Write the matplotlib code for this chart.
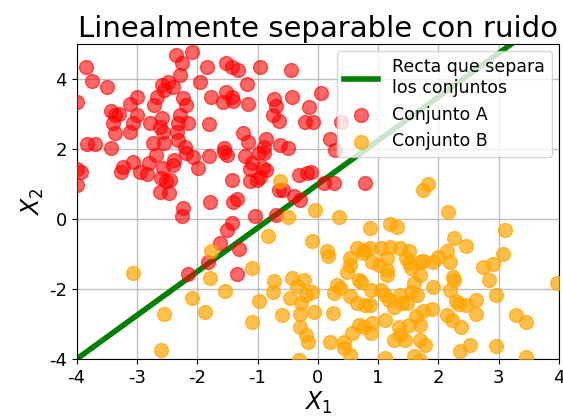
import matplotlib
matplotlib.use("Agg")
import matplotlib.pyplot as plt
import numpy as np

plt.rcParams["axes.unicode_minus"] = False

# Conjunto A (above the separating line)
a_x = [-3.85, -3.75, -3.50, -4.00, -2.35, -2.26, -2.29, -2.08, -2.59, -2.49,
       -2.40, -2.55, -2.67, -3.00, -3.12, -2.71, -2.23, -2.18, -3.43, -3.36,
       -3.30, -3.39, -3.36, -3.00, -3.06, -3.12, -2.78, -2.59, -2.62, -2.56,
       -2.31, -2.29, -2.34, -2.31, -3.83, -3.70, -3.43, -2.73, -2.55, -2.15,
       -1.84, -1.52, -1.43, -1.33, -0.96, -0.44, -1.96, -1.18, -1.77, -1.52,
       -1.57, -1.43, -1.40, -1.15, -0.72, -0.69, -0.43, -0.75, -0.64, -0.15,
       -0.21, -1.81, -1.24, -1.15, -0.86, -0.90, -0.62, -0.49, -2.20, -1.56,
       0.06, -0.08, 0.39, 0.21, 0.28,
       -4.00, -3.92, -4.00, -3.26, -3.23, -3.07, -2.94, -2.83, -2.80, -2.68,
       -2.57, -2.60, -2.52, -2.45, -2.62, -2.47, -2.40, -2.38, -2.18, -2.24,
       -2.25,
       -2.07, -1.98, -1.81, -1.56, -1.51, -1.20, -1.09, -1.12, -0.98, -0.90,
       -0.91, -0.86, -0.96, -1.12, -1.01, -1.43, -0.32, -0.18, -0.65, -0.57,
       -0.40, -0.30, -1.78, -1.40, -1.34, -1.04, -0.69, -1.43, -1.51, -1.62,
       -1.31,
       -0.12, 0.10, 0.27, 0.79, -2.16, -1.82, -1.34]
a_y = [4.34, 3.95, 3.79, 3.36, 4.70, 4.46, 4.12, 4.78, 3.84, 3.93,
       3.79, 3.70, 3.50, 3.50, 3.31, 3.27, 3.46, 3.27, 3.10, 2.98,
       3.02, 2.74, 2.46, 2.98, 2.74, 2.50, 2.74, 2.89, 2.65, 2.50,
       2.74, 2.98, 2.50, 2.27, 2.14, 2.14, 2.05, 2.17, 2.17, 2.74,
       4.34, 4.46, 4.34, 4.27, 4.36, 4.27, 3.93, 3.86, 3.49, 3.65,
       3.34, 3.50, 3.39, 3.31, 3.44, 3.25, 3.50, 2.98, 2.82, 3.22,
       2.77, 2.71, 2.46, 2.20, 2.30, 2.08, 2.12, 2.03, 2.08, 2.03,
       3.60, 2.77, 2.77, 2.30, 1.97,
       1.43, 1.36, 0.98, 1.36, 1.50, 1.65, 1.36, 1.30, 1.62, 1.84,
       1.46, 1.17, 1.10, 1.12, 0.79, 0.76, 1.55, 1.70, 1.89, 0.31,
       0.10,
       1.79, 1.46, 1.81, 1.93, 1.84, 1.81, 1.60, 1.43, 1.89, 1.89,
       1.46, 1.40, 1.22, 1.08, 1.12, 1.12, 1.27, 1.31, 0.84, 0.84,
       0.67, 0.55, 0.50, 0.50, 0.57, 0.08, 0.12, -0.11, -0.30, -0.69,
       -0.86,
       1.36, 1.03, 1.03, 1.05, -1.58, -1.23, -1.57]

# Conjunto B (below the separating line)
b_x = [-0.62, -0.49, -0.82, -1.77,
       -0.05, 0.35, 1.75, 1.82, 0.86, 1.20, 1.31, -0.09, 0.15,
       2.16, 3.10, 2.26, 2.45, 2.15, 3.07, 2.00,
       -3.07, -2.55, -2.60, -2.08,
       -1.78, -1.09, -1.54, -1.87, -0.97, -1.09, -0.72, -0.75, -0.60, -0.43,
       -0.35, -0.23, -0.46, -0.28, -0.19, -0.29, -0.30, -0.19, -0.17, -0.32,
       0.65, 0.76, 0.87, 1.04, 1.20, 1.37, 1.51, 1.47, 0.17, 0.54,
       0.53, 0.48, 0.75, 0.90, 1.01, 1.15, 1.14, 1.15, 1.51, 1.54,
       1.70, 1.69, 0.68, 0.72, -0.09, -0.07, 0.25, 0.32, 0.36, 0.27,
       0.54, 0.65, 0.79, 0.87, 0.89, 1.04, 1.12, 1.18, 1.26, 1.37,
       1.40, 1.48, 1.54, 1.59, 1.65, 1.62, 1.70, 1.12, 0.68, 0.76,
       0.90, 0.88, 0.57, 0.43, 0.43, 0.54, 0.20, 1.34, 1.37, 1.26,
       1.45, 1.51, 1.70, 1.78, 1.12, 1.59, 1.70,
       1.75, 1.91, 2.20, 2.74, 2.90, 2.24, 2.25, 2.84, 1.91, 2.19,
       2.29, 2.34, 2.45, 2.62, 2.95, 3.97, 1.75, 1.89, 2.14, 2.22,
       2.38, 2.62, 3.28, 3.45, 2.52, 2.36, 2.95, 3.45]
b_y = [1.10, 0.06, -0.48, -0.90,
       0.27, 0.06, 0.83, 1.00, -0.26, -0.13, -0.21, -0.62, -0.92,
       0.22, -0.30, -0.54, -0.77, -0.90, -1.00, -1.08,
       -1.54, -2.71, -3.73, -2.26,
       -1.69, -1.40, -2.05, -2.64, -2.35, -2.95, -1.78, -2.07, -2.75, -1.69,
       -1.92, -1.73, -2.26, -2.40, -2.16, -2.71, -3.07, -3.32, -3.50, -4.02,
       -0.83, -0.88, -0.83, -0.83, -0.78, -0.83, -0.92, -1.11, -1.04, -1.11,
       -1.32, -1.50, -0.97, -1.21, -1.30, -1.11, -1.45, -1.59, -1.26, -1.40,
       -1.21, -1.59, -1.73, -1.80, -2.07, -2.64, -2.69, -1.88, -1.97, -2.11,
       -2.21, -2.40, -2.45, -2.45, -2.02, -2.02, -2.16, -2.30, -2.50, -2.16,
       -2.40, -2.40, -2.07, -1.83, -2.16, -2.78, -3.02, -2.88, -3.02, -3.07,
       -2.97, -3.26, -3.26, -3.50, -3.69, -3.88, -3.51, -3.07, -3.30, -3.45,
       -3.45, -3.02, -3.45, -3.59, -3.97, -3.92, -4.02,
       -1.19, -1.21, -1.21, -1.38, -1.29, -1.64, -1.73, -1.73, -1.95, -2.02,
       -2.33, -2.43, -2.45, -2.30, -2.16, -1.83, -2.62, -2.57, -2.73, -2.88,
       -3.07, -2.71, -2.73, -2.94, -3.61, -3.76, -3.64, -3.95]

# Separating line y = m x + b
slope = 1.25
intercept = 1.0
line_x = np.array([-4.0, 4.0])

fig = plt.figure(figsize=(5.63, 4.19), dpi=100)
ax = fig.add_axes([0.136, 0.143, 0.857, 0.751])

ax.plot(line_x, slope * line_x + intercept, color="green", lw=4,
        label="Recta que separa\nlos conjuntos", zorder=2)
ax.scatter(a_x, a_y, s=100, color="red", alpha=0.6, label="Conjunto A", zorder=3)
ax.scatter(b_x, b_y, s=100, color="orange", alpha=0.7, label="Conjunto B", zorder=3)

ax.set_xlim(-4, 4)
ax.set_ylim(-4, 5)
ax.set_xticks([-4, -3, -2, -1, 0, 1, 2, 3, 4])
ax.set_yticks([-4, -2, 0, 2, 4])
ax.tick_params(labelsize=13)
ax.grid(True, color="#b0b0b0", lw=1, alpha=0.8)
ax.set_axisbelow(True)

ax.set_title("Linealmente separable con ruido", fontsize=21, pad=5)
ax.set_xlabel("$X_1$", fontsize=17, labelpad=2)
ax.set_ylabel("$X_2$", fontsize=17, labelpad=2)
ax.legend(loc="upper right", fontsize=12.5, borderaxespad=0.4)

fig.savefig("out.png", dpi=100)
